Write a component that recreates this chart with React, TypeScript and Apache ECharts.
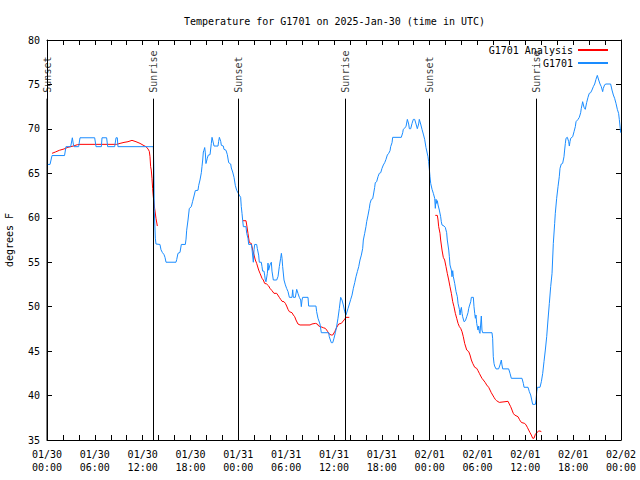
import React, { useEffect, useRef } from 'react';
import * as echarts from 'echarts';

const FONT = '"DejaVu Sans Mono", "Liberation Mono", monospace';
const TITLE = 'Temperature for G1701 on 2025-Jan-30 (time in UTC)';
const Y_NAME = 'degrees F';

const xTickLabels = [
  '01/30\n00:00', '01/30\n06:00', '01/30\n12:00', '01/30\n18:00',
  '01/31\n00:00', '01/31\n06:00', '01/31\n12:00', '01/31\n18:00',
  '02/01\n00:00', '02/01\n06:00', '02/01\n12:00', '02/01\n18:00',
  '02/02\n00:00',
];

// Sun events: hours since 01/30 00:00 UTC
const eventNames = ['Sunset', 'Sunrise', 'Sunset', 'Sunrise', 'Sunset', 'Sunrise'];
const eventHours = [0, 13.359, 24.021, 37.443, 47.98, 61.401];
const eventTopTemp = 73.4;

// G1701 observations [hour, °F]
const obsDay1 = [
  [0.1, 66], [0.38, 66], [0.63, 67], [2.2, 67], [2.38, 68], [2.97, 68], [3.18, 69], [3.3, 68.3], [3.39, 68],
  [3.97, 68], [4.14, 69], [5.98, 69], [6.15, 68], [6.82, 68], [6.9, 69], [7.48, 69], [7.61, 68], [8.49, 68],
  [8.66, 69], [8.82, 69], [8.9, 68], [13.34, 68], [13.4, 65.5], [13.46, 60.7], [13.59, 57.7], [13.67, 57.05],
  [14.17, 57], [14.3, 56.4], [14.47, 56.1], [14.68, 55.85], [14.8, 55.55], [14.93, 55], [16.18, 55], [16.27, 55.3],
  [16.43, 56], [16.68, 56.1], [16.85, 57], [17.35, 57], [17.44, 57.6], [17.52, 58.6], [17.69, 59.75], [17.85, 61.05],
  [18.1, 61.25], [18.27, 61.85], [18.44, 62.45], [18.6, 63.05], [18.94, 63.1], [19.03, 63.65], [19.19, 64.25],
  [19.36, 65.07], [19.44, 65.75], [19.53, 66.5], [19.61, 67.4], [19.69, 67.6], [19.78, 67.9], [19.86, 67.3],
  [19.94, 66.1], [20.11, 66.7], [20.23, 67.05], [20.45, 67.1], [20.61, 68.35], [20.7, 69.05], [20.78, 68.75],
  [20.95, 68.07], [21.45, 68.07], [21.53, 68.6], [21.62, 69.05], [21.79, 68.6], [21.87, 68.15], [22.12, 68.07],
  [22.2, 67.7], [22.45, 67.6], [22.62, 67.1], [22.79, 66.2], [23.04, 66.05], [23.12, 65.6], [23.29, 65.15],
  [23.46, 64.55], [23.62, 63.65], [23.79, 63.1], [23.96, 62.8],
];
const obsDay2 = [
  [24.12, 62.55], [24.29, 62.3], [24.37, 61.25], [24.46, 60.5], [24.55, 59.67], [24.63, 59], [24.96, 59],
  [25.05, 58.25], [25.21, 57.7], [25.3, 57], [25.63, 57], [25.71, 56.55], [25.8, 55.7], [25.88, 55], [25.97, 56.4],
  [26.05, 57], [26.3, 57], [26.38, 56.55], [26.55, 55.8], [26.63, 55], [26.88, 55], [26.97, 54.5], [27.05, 54],
  [27.22, 54], [27.3, 53.55], [27.38, 53], [27.47, 52.8], [27.64, 53.75], [27.72, 54.9], [27.8, 54.1], [27.97, 54.7],
  [28.14, 55], [28.22, 54], [28.39, 53], [28.81, 53], [28.98, 53.4], [29.14, 54.5], [29.31, 55.45], [29.4, 56],
  [29.48, 55.45], [29.56, 54.5], [29.73, 53], [29.9, 52.45], [30.06, 52.05], [30.23, 51.7], [30.4, 51.05],
  [30.73, 51.05], [30.82, 51.9], [30.9, 51.05], [31.15, 51.05], [31.32, 51.95], [31.48, 51.5], [31.65, 51.05],
  [31.82, 50.75], [31.9, 50], [31.99, 50.75], [32.07, 51.05], [32.74, 51.05], [32.82, 50.07], [33.74, 50.07],
  [33.82, 49.45], [33.99, 48.7], [34.24, 48.05], [34.41, 47.07], [35.33, 47.07], [35.41, 46.62], [35.66, 45.95],
  [35.84, 45.95], [36.0, 46.45], [36.17, 47.07], [36.34, 47.82], [36.5, 48.7], [36.67, 49.8], [36.84, 51.05],
  [37.0, 50.75], [37.17, 50.2], [37.34, 49.45], [37.5, 49.05], [37.76, 49.8], [37.93, 50.3], [38.1, 50.83],
  [38.26, 51.3], [38.43, 52.07], [38.6, 52.7], [38.76, 53.37], [38.93, 53.94], [39.1, 54.5], [39.26, 55.25],
  [39.43, 55.8], [39.6, 56.56], [39.68, 57.5], [39.85, 58.25], [40.01, 59], [40.1, 59.56], [40.27, 60.3],
  [40.43, 61.06], [40.52, 61.62], [40.68, 62.07], [40.85, 62.14], [40.94, 62.56], [41.1, 63.42], [41.18, 63.95],
  [41.35, 64.06], [41.52, 64.62], [41.68, 65], [41.86, 65.07], [42.02, 65.56], [42.19, 65.94], [42.36, 66.2],
  [42.52, 66.57], [42.69, 67.06], [42.86, 67.25], [43.03, 67.55], [43.11, 68], [43.28, 68.45], [43.36, 69.05],
  [44.44, 69.05], [44.62, 69.57], [44.69, 69.95], [45.03, 70.25], [45.2, 71.07], [45.37, 70.55], [45.45, 70.02],
  [45.62, 70.02], [45.79, 70.62], [45.95, 71.07], [46.12, 71.07], [46.29, 70.55], [46.45, 70.02], [46.62, 70.55],
  [46.7, 71.07], [46.87, 70.55], [47.04, 69.95], [47.2, 69.42], [47.37, 68.83], [47.54, 67.9], [47.79, 66.87],
  [47.87, 66.31], [47.96, 65.45],
];
const obsDay3 = [
  [48.04, 64.62], [48.13, 63.87], [48.3, 63.2], [48.46, 62.75], [48.63, 62.19], [48.71, 61.06], [48.8, 62.08],
  [48.88, 61.62], [48.96, 61.92], [49.05, 61.44], [49.21, 60.87], [49.38, 60.12], [49.46, 59.56], [49.55, 59.19],
  [49.8, 59.07], [49.96, 58.92], [50.13, 58.32], [50.21, 57.5], [50.39, 56.37], [50.47, 55.62], [50.55, 54.69],
  [50.72, 54.12], [50.8, 53.37], [50.89, 54.05], [50.97, 53.37], [51.14, 52.62], [51.31, 51.69], [51.47, 51.12],
  [51.56, 50.37], [51.73, 49.7], [51.81, 49.06], [51.89, 49.62], [51.98, 49.92], [52.06, 49.25], [52.14, 48.87],
  [52.31, 48.31], [52.48, 48.42], [52.65, 48.87], [52.81, 49.32], [52.9, 49.81], [52.98, 50.07], [53.15, 50.56],
  [53.23, 51.05], [53.48, 51.05], [53.56, 50], [53.65, 49.25], [53.73, 48.69], [53.81, 49.06], [53.9, 48.12],
  [54.06, 47.37], [54.15, 47.82], [54.23, 47.18], [54.31, 47], [54.48, 48.95], [54.56, 47.37], [54.65, 47.07],
  [55.82, 47.07], [55.9, 46.44], [55.98, 44.37], [56.07, 43.62], [56.15, 43.32], [56.32, 43], [56.65, 43],
  [56.82, 43.44], [56.99, 44], [57.07, 43.44], [57.16, 43], [57.91, 43], [58.08, 42.5], [58.24, 41.94],
  [59.58, 41.94], [59.75, 41.37], [59.84, 40.93], [60.34, 40.93], [60.5, 40.44], [60.67, 40.06], [60.92, 39.01],
  [61.26, 39.01], [61.35, 39.57], [61.43, 40.44], [61.51, 40.93], [61.84, 40.93], [62.01, 41.56], [62.18, 42.5],
  [62.34, 43.81], [62.51, 45.12], [62.68, 46.62], [62.84, 48.5], [63.01, 50.37], [63.18, 52.25], [63.35, 53.75],
  [63.51, 57.12], [63.68, 59.37], [63.76, 60.5], [63.93, 62.19], [64.1, 63.5], [64.26, 64.62], [64.35, 65.56],
  [64.51, 66.05], [64.68, 66.12], [64.85, 66.87], [64.93, 67.62], [65.02, 68.37], [65.1, 68.94], [65.27, 69.05],
  [65.44, 68.56], [65.52, 68.07], [65.6, 68.56], [65.69, 68.94], [65.94, 69.12], [66.11, 69.69], [66.27, 70.25],
  [66.36, 70.81], [66.61, 71.07], [66.77, 71.3], [66.94, 71.82], [67.02, 72.31], [67.11, 72.69], [67.19, 73.06],
  [67.36, 72.43], [67.52, 72.2], [67.69, 72.95], [67.86, 73.55], [68.02, 74], [68.19, 74.07], [68.36, 74.37],
  [68.53, 74.75], [68.7, 75.05], [68.86, 75.57], [69.03, 76.02], [69.2, 75.5], [69.37, 75.05], [69.53, 74.75],
  [69.7, 74.19], [69.78, 74.56], [69.95, 74.97], [70.12, 75.05], [70.7, 75.05], [70.87, 74.37], [71.04, 73.81],
  [71.2, 73.44], [71.37, 72.88], [71.54, 72.2], [71.7, 71.75], [71.79, 71.07], [71.96, 69.57],
];

// G1701 Analysis [hour, °F] – three separate runs
const analysisSeg1 = [
  [0.63, 67.25], [1.05, 67.4], [1.55, 67.59], [2.13, 67.74], [2.63, 67.93], [3.3, 68.07], [3.8, 68.22],
  [4.14, 68.26], [8.74, 68.26], [9.16, 68.37], [9.66, 68.48], [10.16, 68.56], [10.66, 68.71], [11.16, 68.56],
  [11.67, 68.37], [12.17, 68.11], [12.42, 68.0], [12.67, 67.74], [12.83, 67.48], [12.92, 66.87], [13.0, 65.75],
  [13.08, 65.37], [13.17, 64.43], [13.25, 63.3], [13.33, 62.4], [13.5, 61.06], [13.67, 59.94], [13.84, 59.07],
];
const analysisSeg2 = [
  [24.55, 59.67], [24.96, 59.67], [25.05, 59.19], [25.21, 58.25], [25.38, 57.2], [25.63, 57.12], [25.8, 56.37],
  [25.97, 55.81], [26.13, 55.25], [26.3, 54.87], [26.55, 54.12], [26.72, 53.75], [26.97, 53.19], [27.13, 53.0],
  [27.3, 52.62], [27.55, 52.55], [27.81, 52.32], [27.97, 52.06], [28.22, 51.8], [28.47, 51.5], [28.81, 51.5],
  [29.14, 51.05], [29.31, 50.82], [29.48, 50.6], [29.73, 50.56], [29.9, 50.37], [30.06, 50.07], [30.23, 49.7],
  [30.4, 49.44], [30.73, 49.32], [30.9, 49.06], [31.07, 48.87], [31.23, 48.5], [31.48, 48.05], [31.74, 47.94],
  [32.99, 47.94], [33.24, 48.05], [33.66, 48.12], [33.91, 48.05], [34.08, 47.82], [34.33, 47.75], [34.66, 47.63],
  [34.91, 47.56], [35.08, 47.37], [35.22, 47.18], [35.41, 46.92], [35.66, 46.81], [35.84, 46.81], [36.09, 47.18],
  [36.34, 47.67], [36.59, 48.05], [36.92, 48.12], [37.26, 48.5], [37.5, 48.8], [37.92, 48.8],
];
const analysisSeg3 = [
  [48.71, 60.27], [48.96, 60.27], [49.05, 59.75], [49.13, 59.0], [49.3, 58.25], [49.38, 57.5], [49.55, 56.37],
  [49.71, 55.55], [49.88, 55.25], [50.05, 54.5], [50.21, 53.75], [50.39, 53.0], [50.55, 52.25], [50.72, 51.5],
  [50.89, 50.56], [51.05, 50.0], [51.22, 49.25], [51.39, 48.69], [51.56, 48.12], [51.73, 47.75], [51.89, 47.56],
  [52.06, 47.18], [52.22, 46.62], [52.39, 45.87], [52.65, 45.12], [52.9, 44.94], [53.06, 44.56], [53.23, 44.0],
  [53.4, 43.62], [53.65, 43.18], [53.9, 43.06], [54.06, 42.8], [54.23, 42.5], [54.4, 42.2], [54.56, 41.94],
  [54.73, 41.75], [54.98, 41.45], [55.15, 41.19], [55.4, 40.93], [55.57, 40.62], [55.73, 40.32], [55.9, 40.06],
  [56.07, 39.8], [56.23, 39.57], [56.4, 39.42], [56.73, 39.23], [57.83, 39.35], [57.99, 39.05], [58.16, 38.75],
  [58.33, 38.37], [58.49, 38.0], [58.66, 37.81], [59.08, 37.62], [59.25, 37.33], [59.42, 37.06], [59.58, 36.95],
  [59.92, 36.87], [60.09, 36.69], [60.25, 36.43], [60.42, 36.12], [60.59, 35.82], [60.75, 35.56], [60.92, 35.2],
  [61.09, 35.2], [61.26, 35.64], [61.43, 35.82], [61.68, 36.01], [61.84, 36.01], [62.01, 35.94],
];

const BREAK: any = ['-', '-'];

function buildOption(): any {
  const analysisData = [...analysisSeg1, BREAK, ...analysisSeg2, BREAK, ...analysisSeg3];
  const obsData = [...obsDay1, ...obsDay2, ...obsDay3];
  const eventLineData: any[] = [];
  eventHours.forEach((h, i) => {
    eventLineData.push([h, 35], [h, eventTopTemp]);
    if (i < eventHours.length - 1) eventLineData.push(BREAK);
  });
  const txt = { fontFamily: FONT, fontSize: 10, color: '#000' };
  const axisLine = { show: true, onZero: false, lineStyle: { color: '#000', width: 1 } };
  const tick = { show: true, inside: true, length: 5, lineStyle: { color: '#000' } };
  const xBase = {
    type: 'value', min: 0, max: 72, interval: 6,
    axisLine, axisTick: tick,
    minorTick: { show: true, splitNumber: 3, length: 5, lineStyle: { color: '#000' } },
    splitLine: { show: false }, minorSplitLine: { show: false },
  };
  const yBase = {
    type: 'value', min: 35, max: 80, interval: 5,
    axisLine, axisTick: tick, splitLine: { show: false },
  };
  return {
    animation: false,
    backgroundColor: '#fff',
    textStyle: { fontFamily: FONT },
    title: {
      text: TITLE, left: 179, top: 11,
      textStyle: { ...txt, fontWeight: 'normal' },
    },
    legend: {
      data: ['G1701 Analysis', 'G1701'],
      orient: 'vertical', align: 'right', right: 26, top: 40,
      itemWidth: 30, itemHeight: 10, itemGap: 3,
      itemStyle: { opacity: 0 },
      textStyle: txt,
    },
    grid: { left: 47, right: 19, top: 40, bottom: 40, containLabel: false, outerBoundsMode: 'none' },
    xAxis: [
      {
        ...xBase, position: 'bottom',
        axisLabel: {
          ...txt, margin: 8, lineHeight: 13,
          formatter: (v: number) => xTickLabels[Math.round(v / 6)] ?? '',
        },
      },
      { ...xBase, position: 'top', axisLabel: { show: false } },
    ],
    yAxis: [
      {
        ...yBase, position: 'left',
        name: Y_NAME, nameLocation: 'middle', nameGap: 33, nameRotate: 90,
        nameTextStyle: txt,
        axisLabel: { ...txt, margin: 7 },
      },
      { ...yBase, position: 'right', axisLabel: { show: false } },
    ],
    series: [
      {
        name: 'G1701 Analysis', type: 'line', data: analysisData, symbol: 'none',
        connectNulls: false, lineStyle: { color: '#ff0000', width: 1 }, itemStyle: { color: '#ff0000' },
        z: 2,
      },
      {
        name: 'G1701', type: 'line', data: obsData, symbol: 'none',
        lineStyle: { color: '#1a8cff', width: 1 }, itemStyle: { color: '#1a8cff' },
        z: 3,
      },
      {
        name: 'sun events', type: 'line', data: eventLineData, symbol: 'none', silent: true,
        connectNulls: false, lineStyle: { color: '#000', width: 1 }, z: 4,
      },
      {
        name: 'sun event labels', type: 'scatter', silent: true, symbolSize: 0,
        data: eventHours.map((h, i) => [h, eventTopTemp, eventNames[i]]),
        label: {
          show: true, ...txt, position: 'top', distance: 6, rotate: 90,
          align: 'left', verticalAlign: 'middle',
          formatter: (p: any) => p.value[2],
        },
        z: 5,
      },
    ],
  };
}

export default function App() {
  const ref = useRef<HTMLDivElement>(null);
  useEffect(() => {
    const chart = echarts.init(ref.current!, null, { renderer: 'svg' });
    chart.setOption(buildOption());
    return () => chart.dispose();
  }, []);
  return (
    <div
      ref={ref}
      style={{ position: 'absolute', left: 0, top: 0, width: 640, height: 480 }}
    />
  );
}
